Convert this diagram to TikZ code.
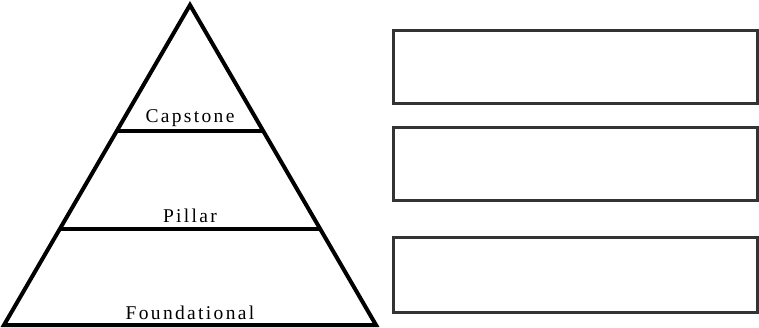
\documentclass[tikz,border=0pt]{standalone}
\usepackage{fontspec}
\setmainfont[LetterSpace=12]{Liberation Serif}
\begin{document}
\begin{tikzpicture}[x=1pt,y=-1pt,
  pyr/.style={line width=4pt, line join=miter},
  panel/.style={draw=black!80, line width=3pt, fill=white},
  lbl/.style={font=\fontsize{19.5}{22}\selectfont, anchor=base, inner sep=0pt}]
\useasboundingbox (0,0) rectangle (759,328);
\coordinate (apex) at (190,5);
\coordinate (bl) at (4,325);
\coordinate (br) at (376,325);
\coordinate (l1a) at (116.8,131);
\coordinate (l1b) at (263.2,131);
\coordinate (l2a) at (59.8,229);
\coordinate (l2b) at (320.2,229);
\draw[pyr] (apex) -- (br) -- (bl) -- cycle;
\draw[pyr] (l1a) -- (l1b);
\draw[pyr] (l2a) -- (l2b);
\node[lbl] (cap) at (190,123) {Capstone};
\node[lbl] (pil) at (190,223) {Pillar};
\node[lbl] (fnd) at (190,319) {Foundational};
\draw[panel] (393,31) rectangle (757,104) node[pos=.5] (b1) {};
\draw[panel] (393,128) rectangle (757,201) node[pos=.5] (b2) {};
\draw[panel] (393,238) rectangle (757,312) node[pos=.5] (b3) {};
\end{tikzpicture}
\end{document}
